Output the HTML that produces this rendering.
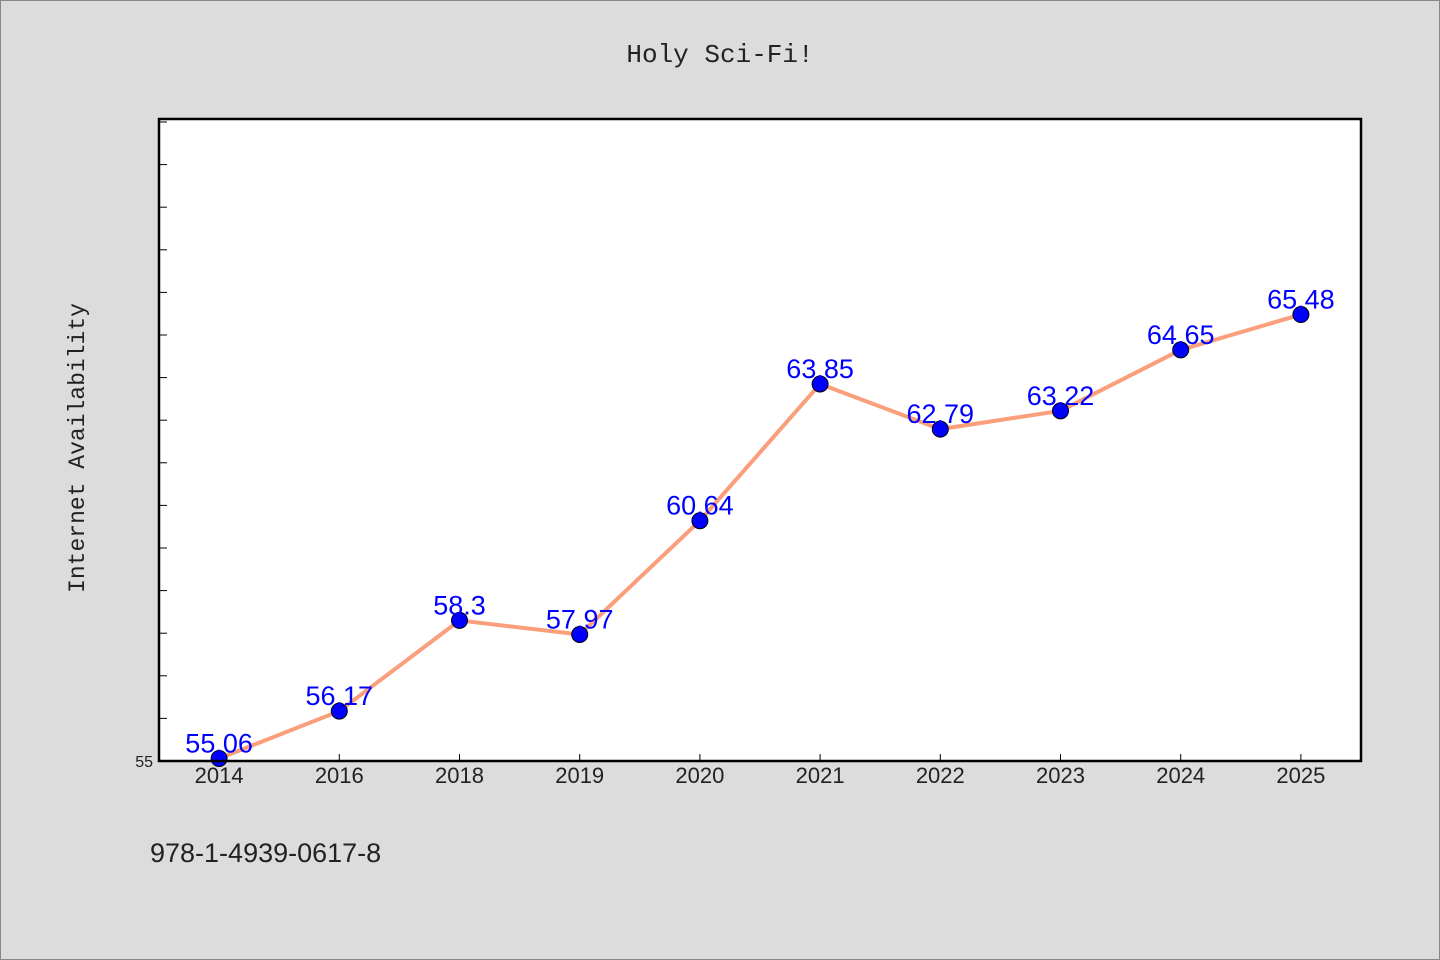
<!DOCTYPE html>
<html><head><meta charset="utf-8"><style>
body{margin:0;background:#dcdcdc;}
svg{display:block;font-family:"WenQuanYi Zen Hei","Liberation Sans",sans-serif;}
</style></head><body>
<svg id="c" width="1440" height="960">
<rect x="0.5" y="0.5" width="1439" height="959" fill="#dcdcdc" stroke="#888"/>
<text x="720" y="62" text-anchor="middle" font-size="26" fill="#222" font-family="'Liberation Mono',monospace">Holy Sci-Fi!</text>
<rect x="159" y="119" width="1202" height="642" fill="#fff"/>
<text transform="translate(84,448) rotate(-90)" text-anchor="middle" font-size="23" fill="#222" font-family="'Liberation Mono',monospace">Internet Availability</text>
<text x="150" y="862" font-size="27" fill="#222">978-1-4939-0617-8</text>
<g id="ticks"></g><g id="series"></g>
<rect x="159" y="119" width="1202" height="642" fill="none" stroke="#000" stroke-width="2.5"/>
</svg>
<script>
const categories=["2014","2016","2018","2019","2020","2021","2022","2023","2024","2025"];
const values=[55.06,56.17,58.3,57.97,60.64,63.85,62.79,63.22,64.65,65.48];
const labels=["55.06","56.17","58.3","57.97","60.64","63.85","62.79","63.22","64.65","65.48"];
const yMin=55,yMax=70.07;
const L=159,R=1361,T=119,B=761;
const NS="http://www.w3.org/2000/svg";
const band=(R-L)/categories.length;
const x=i=>L+band*(i+0.5);
const y=v=>B-(v-yMin)/(yMax-yMin)*(B-T);
function mk(t,a,p){const e=document.createElementNS(NS,t);for(const k in a)e.setAttribute(k,a[k]);p.appendChild(e);return e;}
const tg=document.getElementById('ticks'),sg=document.getElementById('series');
for(let v=56;v<=70;v++){
 const t=mk('line',{x1:L,x2:L+8,y1:y(v),y2:y(v),stroke:'#000','stroke-width':1},tg);
 
 
}
const yl=mk('text',{x:153,y:B+6,'text-anchor':'end','font-size':16,fill:'#222'},tg);yl.textContent=String(yMin);


categories.forEach((c,i)=>{
 const t=mk('line',{x1:x(i),x2:x(i),y1:B,y2:B-7,stroke:'#000','stroke-width':1},tg);
 
 
 const l=mk('text',{x:x(i),y:B+22,'text-anchor':'middle','font-size':22,fill:'#222'},tg);l.textContent=c;
 
 
});
const line=mk('polyline',{points:values.map((v,i)=>x(i)+','+y(v)).join(' '),fill:'none',stroke:'#fa9e7c','stroke-width':4},sg);


values.forEach((v,i)=>{
 const p=mk('circle',{cx:x(i),cy:y(v),r:8,fill:'#0000ff',stroke:'#000','stroke-width':1},sg);
 
 
 const t=mk('text',{x:x(i),y:y(v)-6,'text-anchor':'middle','font-size':27,fill:'#0000ff'},sg);t.textContent=labels[i];
 
 
});
</script>
</body></html>
